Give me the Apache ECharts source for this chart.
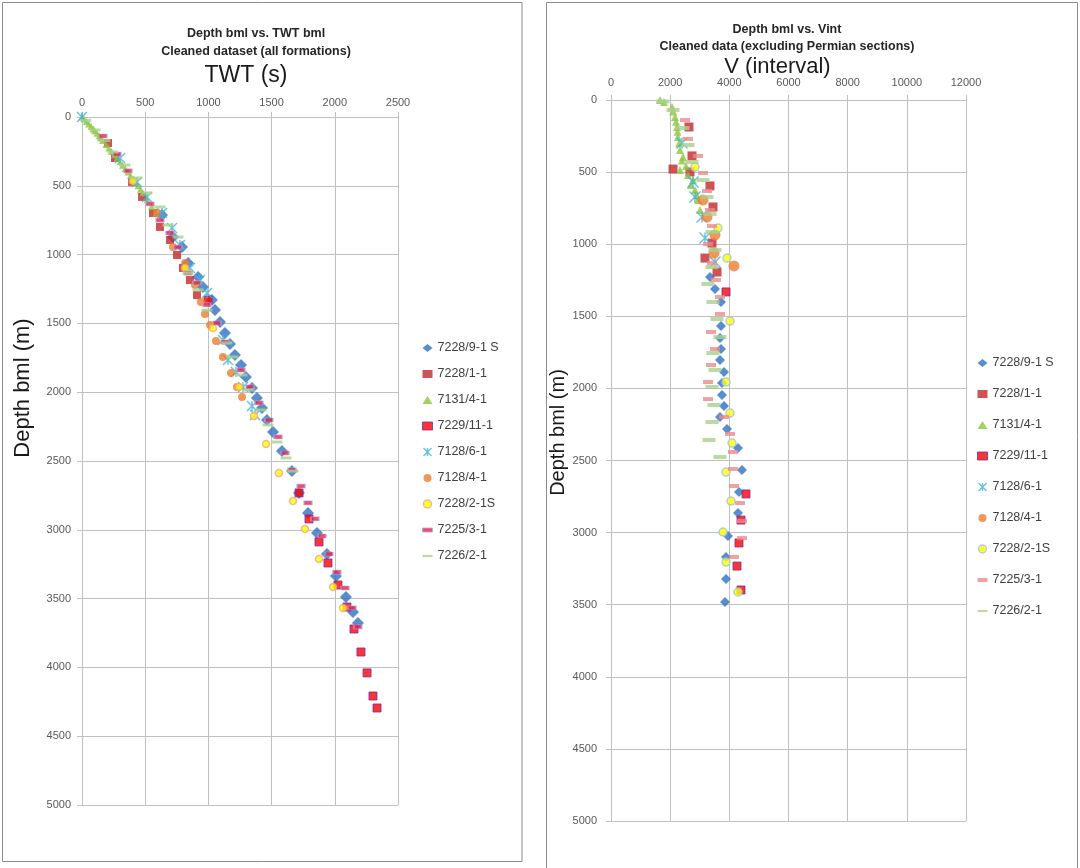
<!DOCTYPE html>
<html>
<head>
<meta charset="utf-8">
<script src="https://cdn.jsdelivr.net/npm/echarts@6/dist/echarts.min.js"></script>
<style>
html,body{margin:0;padding:0;background:#fff;}
#chart{width:1080px;height:868px;}
</style>
</head>
<body>
<div id="chart"></div>
<script>
// ---------- names ----------
const wellNames = ['7228/9-1 S','7228/1-1','7131/4-1','7229/11-1','7128/6-1','7128/4-1','7228/2-1S','7225/3-1','7226/2-1'];
const twtTicks = [0,500,1000,1500,2000,2500];
const vTicks = [0,2000,4000,6000,8000,10000,12000];
const depthTicks = [0,500,1000,1500,2000,2500,3000,3500,4000,4500,5000];

// ---------- left panel: [TWT, depth] ----------
const twt_7228_9_1S = [[633,712],[720,872],[791,945],[839,1061],[918,1163],[957,1235],[1028,1330],[1052,1403],[1092,1490],[1131,1570],[1171,1650],[1210,1730],[1258,1802],[1297,1889],[1345,1969],[1384,2042],[1424,2115],[1463,2202],[1511,2289],[1582,2427],[1661,2573],[1717,2732],[1788,2878],[1859,3023],[1938,3176],[2009,3336],[2088,3488],[2144,3597],[2183,3677]];
const twt_7228_1_1 = [[206,189],[261,298],[396,472],[475,581],[562,698],[617,799],[696,894],[752,1003],[799,1097],[854,1185],[910,1294]];
const twt_7131_4_1 = [[0,0],[18,15],[35,32],[53,50],[72,68],[90,87],[100,100],[118,118],[136,136],[145,150],[163,170],[190,200],[212,225],[234,250],[256,275],[278,300],[300,325],[321,350],[342,375],[363,400],[384,425],[404,450],[424,475],[444,500],[463,525],[481,550],[516,600],[551,650],[585,700]];
const twt_7229_11_1 = [[997,1330],[1717,2732],[1796,2921],[1875,3088],[1946,3241],[2025,3401],[2096,3561],[2152,3721],[2207,3888],[2255,4040],[2302,4208],[2334,4295]];
const twt_7128_6_1 = [[0,0],[301,298],[435,472],[514,581],[633,698],[712,807],[775,930],[854,1097],[933,1185],[989,1279],[1115,1621],[1155,1766],[1218,1853],[1274,1962],[1345,2100],[1369,2166]];
const twt_7128_4_1 = [[593,698],[720,945],[815,1061],[894,1221],[941,1344],[973,1432],[1013,1512],[1060,1628],[1115,1744],[1179,1860],[1226,1962],[1266,2035]];
const twt_7228_2_1S = [[403,465],[815,1097],[1036,1533],[1242,1962],[1361,2173],[1456,2376],[1558,2587],[1669,2791],[1764,2994],[1875,3212],[1986,3416],[2065,3568]];
const twt_7225_3_1 = [[166,138],[277,269],[364,392],[538,632],[617,749],[696,843],[759,945],[839,1134],[910,1206],[989,1366],[1068,1497],[1131,1635],[1258,1839],[1329,1962],[1400,2078],[1479,2202],[1551,2325],[1606,2442],[1661,2565],[1733,2682],[1788,2805],[1843,2921],[1899,3045],[1954,3176],[2017,3307],[2081,3423],[2136,3568],[2183,3706]];
const twt_7226_2_1 = [[30,25],[103,94],[180,170],[245,254],[340,349],[435,443],[514,552],[617,654],[680,785],[759,872],[839,1134],[918,1257],[989,1403],[1147,1642],[1195,1744],[1266,1875],[1321,1984],[1416,2129],[1471,2238],[1543,2362],[1614,2478],[1669,2573]];

// ---------- right panel: [Vint, depth] ----------
const v_7228_9_1S = [[3346,1228],[3515,1311],[3718,1401],[3718,1567],[3684,1651],[3718,1727],[3684,1803],[3819,1886],[3752,1963],[3752,2046],[3819,2122],[3684,2198],[3921,2282],[4293,2413],[4428,2566],[4326,2719],[4293,2864],[3955,3024],[3887,3169],[3887,3322],[3853,3481]];
const v_7228_1_1 = [[2636,187],[2738,388],[2096,479],[2670,499],[3346,596],[3448,742],[3414,992],[3177,1096],[3583,1193]];
const v_7131_4_1 = [[1656,0],[1791,14],[2062,49],[2100,80],[2163,118],[2200,150],[2231,187],[2250,220],[2265,257],[2300,300],[2332,347],[2434,395],[2400,420],[2535,458],[2332,485],[2600,520],[2772,555],[2700,590],[2839,624],[2900,660],[2941,694],[3008,763]];
const v_7229_11_1 = [[3887,1331],[4563,2732],[4394,2913],[4326,3072],[4259,3232],[4394,3398]];
const v_7128_6_1 = [[2400,298],[2772,569],[2839,673],[3076,811],[3177,957],[3515,1123]];
const v_7128_4_1 = [[3110,694],[3245,811],[3515,936],[3481,1061],[4157,1151]];
const v_7228_2_1S = [[2839,465],[3617,888],[3921,1096],[4022,1533],[3887,1956],[4022,2171],[4090,2379],[3887,2580],[4056,2781],[3786,2996],[3887,3204],[4293,3412]];
const v_7225_3_1 = [[2501,139],[2603,270],[2941,388],[3110,506],[3245,631],[3346,763],[3414,874],[3279,999],[3414,1130],[3549,1248],[3684,1366],[3684,1484],[3380,1609],[3515,1727],[3380,1838],[3279,1956],[3279,2074],[3819,2198],[4022,2316],[4124,2441],[4124,2559],[4157,2677],[4360,2795],[4428,2920],[4428,3038],[4157,3169]];
const v_7226_2_1 = [[1750,10],[2096,69],[2434,194],[2603,312],[2738,430],[3110,555],[3245,673],[3346,791],[3414,915],[3515,1040],[3414,1158],[3279,1276],[3448,1401],[3583,1519],[3684,1644],[3448,1755],[3515,1872],[3414,1990],[3481,2115],[3414,2233],[3312,2358],[3684,2476]];

const leftData = [twt_7228_9_1S, twt_7228_1_1, twt_7131_4_1, twt_7229_11_1, twt_7128_6_1, twt_7128_4_1, twt_7228_2_1S, twt_7225_3_1, twt_7226_2_1];
const rightData = [v_7228_9_1S, v_7228_1_1, v_7131_4_1, v_7229_11_1, v_7128_6_1, v_7128_4_1, v_7228_2_1S, v_7225_3_1, v_7226_2_1];

const ASTER = 'path://M0,0L10,10M10,0L0,10M5,0L5,10';
const DASH = 'path://M0,0L10,0L10,4L0,4Z';
const LONGDASH = 'path://M0,0L14,0L14,3L0,3Z';

// styles per well (left, right)
const leftStyle = [
  {symbol:'diamond', size:12, item:{color:'#2f70c2'}},
  {symbol:'rect', size:8, item:{color:'#c0282d'}},
  {symbol:'triangle', size:7, item:{color:'#8dc63f'}},
  {symbol:'rect', size:8, item:{color:'#ff0000', borderColor:'#7030a0', borderWidth:1}},
  {symbol:ASTER, size:10, item:{color:'rgba(0,0,0,0)', borderColor:'#3fb1d6', borderWidth:1.4}},
  {symbol:'circle', size:8, item:{color:'#ed7d31'}},
  {symbol:'circle', size:7, item:{color:'#ffff00', borderColor:'#f4a582', borderWidth:1.5}},
  {symbol:'rect', size:[8,4], item:{color:'#e8234f', borderColor:'#b4a7d6', borderWidth:1}},
  {symbol:'rect', size:[11,3], item:{color:'#a9d18e'}}
];
const rightStyle = [
  {symbol:'diamond', size:10, item:{color:'#2f70c2'}},
  {symbol:'rect', size:9, item:{color:'#c0282d'}},
  {symbol:'triangle', size:8, item:{color:'#8dc63f'}},
  {symbol:'rect', size:8, item:{color:'#ff0000', borderColor:'#7030a0', borderWidth:1}},
  {symbol:ASTER, size:11, item:{color:'rgba(0,0,0,0)', borderColor:'#3fb1d6', borderWidth:1.4}},
  {symbol:'circle', size:11, item:{color:'#ed7d31'}},
  {symbol:'circle', size:8, item:{color:'#ffff00', borderColor:'#9dc3e6', borderWidth:1.5}},
  {symbol:'rect', size:[10,4], item:{color:'#ec8a8a'}},
  {symbol:'rect', size:[13,4], item:{color:'#a9d18e'}}
];
const legendIcons = ['diamond','rect','triangle','rect',ASTER,'circle','circle',DASH,LONGDASH];

function legendData(styles){
  return wellNames.map((n,i)=>{
    const st = styles[i];
    const it = Object.assign({borderWidth:0, borderColor:'rgba(0,0,0,0)'}, st.item);
    return {name:n, icon:legendIcons[i], itemStyle:it};
  });
}

const series = [];
wellNames.forEach((n,i)=>{
  series.push({type:'scatter', name:n, xAxisIndex:0, yAxisIndex:0, data:leftData[i],
    symbol:leftStyle[i].symbol, symbolSize:leftStyle[i].size, itemStyle:leftStyle[i].item,
    emphasis:{disabled:true}, z:2+i});
});
wellNames.forEach((n,i)=>{
  series.push({type:'scatter', name:n, xAxisIndex:1, yAxisIndex:1, data:rightData[i],
    symbol:rightStyle[i].symbol, symbolSize:rightStyle[i].size, itemStyle:rightStyle[i].item,
    emphasis:{disabled:true}, z:2+i});
});

const FONT = 'Liberation Sans';
const gridLine = {show:true, lineStyle:{color:'#c0c0c0', width:1}};
const axisLine = {show:true, lineStyle:{color:'#c0c0c0', width:1}};
const tick = {show:true, length:5, lineStyle:{color:'#c0c0c0'}};
const plain = v => String(v);
const lbl = {color:'#595959', fontFamily:FONT, fontSize:11, formatter:plain};

const option = {
  animation:false,
  backgroundColor:'#ffffff',
  graphic:[
    {type:'rect', shape:{x:2.5, y:2.5, width:519.5, height:859}, style:{fill:'none', stroke:'#8c8c8c', lineWidth:1}, silent:true},
    {type:'rect', shape:{x:546.5, y:2.5, width:531, height:870}, style:{fill:'none', stroke:'#8c8c8c', lineWidth:1}, silent:true},
    {type:'text', x:256, y:34, style:{text:'Depth bml vs. TWT bml', font:'bold 12.5px "Liberation Sans"', fill:'#262626', textAlign:'center', textVerticalAlign:'middle'}},
    {type:'text', x:256, y:52, style:{text:'Cleaned dataset (all formations)', font:'bold 12.5px "Liberation Sans"', fill:'#262626', textAlign:'center', textVerticalAlign:'middle'}},
    {type:'text', x:787, y:30, style:{text:'Depth bml vs. Vint', font:'bold 12.5px "Liberation Sans"', fill:'#262626', textAlign:'center', textVerticalAlign:'middle'}},
    {type:'text', x:787, y:47, style:{text:'Cleaned data (excluding Permian sections)', font:'bold 12.5px "Liberation Sans"', fill:'#262626', textAlign:'center', textVerticalAlign:'middle'}}
  ],
  grid:[
    {left:82, top:117, width:316, height:688},
    {left:611, top:100, width:355, height:721}
  ],
  xAxis:[
    {type:'value', gridIndex:0, position:'top', min:0, max:2500, interval:500,
     name:'TWT (s)', nameLocation:'middle', nameGap:30,
     nameTextStyle:{fontFamily:FONT, fontSize:23, color:'#1a1a1a', padding:[0,0,0,12]},
     axisLine:axisLine, axisTick:tick, splitLine:gridLine, axisLabel:Object.assign({margin:9}, lbl)},
    {type:'value', gridIndex:1, position:'top', min:0, max:12000, interval:2000,
     name:'V (interval)', nameLocation:'middle', nameGap:22, nameMoveOverlap:false,
     nameTextStyle:{fontFamily:FONT, fontSize:22, color:'#1a1a1a', padding:[0,22,0,0]},
     axisLine:axisLine, axisTick:tick, splitLine:gridLine, axisLabel:Object.assign({margin:12}, lbl)}
  ],
  yAxis:[
    {type:'value', gridIndex:0, inverse:true, min:0, max:5000, interval:500,
     name:'Depth bml (m)', nameLocation:'middle', nameGap:48, nameRotate:90,
     nameTextStyle:{fontFamily:FONT, fontSize:22, color:'#1a1a1a', padding:[0,0,0,146]},
     axisLine:axisLine, axisTick:tick, splitLine:gridLine, axisLabel:Object.assign({margin:11}, lbl)},
    {type:'value', gridIndex:1, inverse:true, min:0, max:5000, interval:500,
     name:'Depth bml (m)', nameLocation:'middle', nameGap:39, nameRotate:90,
     nameTextStyle:{fontFamily:FONT, fontSize:20, color:'#1a1a1a', padding:[0,0,0,56]},
     axisLine:axisLine, axisTick:tick, splitLine:gridLine, axisLabel:Object.assign({margin:14}, lbl)}
  ],
  legend:[
    {orient:'vertical', left:417, top:336, itemWidth:10, itemHeight:8, itemGap:12,
     textStyle:{fontFamily:FONT, fontSize:12.5, color:'#404040', lineHeight:14},
     selectedMode:false, data:legendData(leftStyle)},
    {orient:'vertical', left:972, top:351, itemWidth:10, itemHeight:8, itemGap:17,
     textStyle:{fontFamily:FONT, fontSize:12.5, color:'#404040', lineHeight:14},
     selectedMode:false, data:legendData(rightStyle)}
  ],
  series:series
};

const chart = echarts.init(document.getElementById('chart'), null, {renderer:'canvas', width:1080, height:868});
chart.setOption(option);
</script>
</body>
</html>
